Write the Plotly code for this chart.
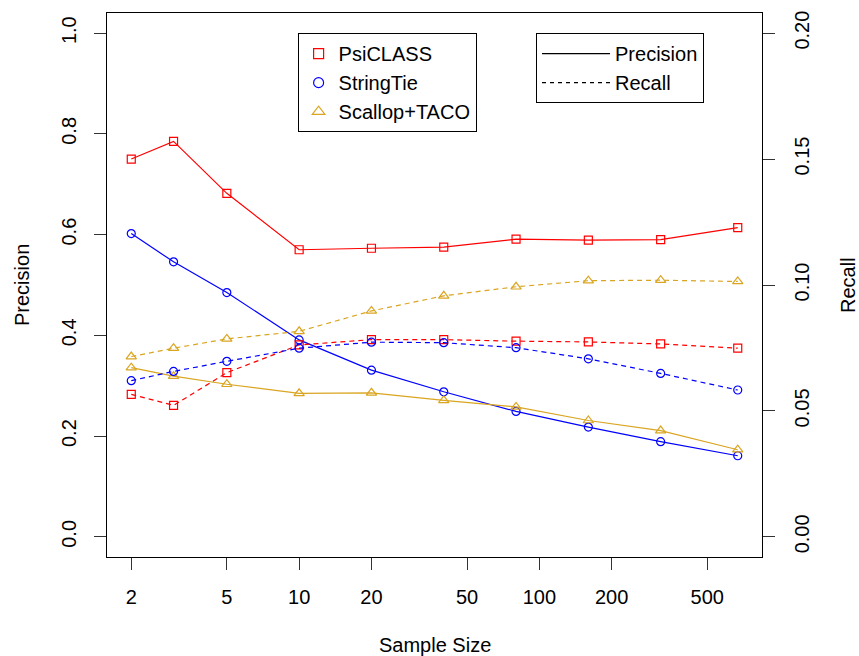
import plotly.graph_objects as go

sample_size = [2, 3, 5, 10, 20, 40, 80, 160, 320, 670]

psiclass_precision = [0.750, 0.785, 0.682, 0.570, 0.573, 0.575, 0.591, 0.589, 0.590, 0.614]
stringtie_precision = [0.602, 0.546, 0.485, 0.391, 0.331, 0.288, 0.249, 0.218, 0.189, 0.161]
scallop_precision = [0.336, 0.319, 0.303, 0.285, 0.286, 0.271, 0.258, 0.231, 0.211, 0.173]

psiclass_recall = [0.0566, 0.0522, 0.0652, 0.0762, 0.0783, 0.0783, 0.0777, 0.0774, 0.0766, 0.0749]
stringtie_recall = [0.0620, 0.0657, 0.0697, 0.0749, 0.0773, 0.0771, 0.0751, 0.0707, 0.0649, 0.0583]
scallop_recall = [0.0716, 0.0749, 0.0786, 0.0816, 0.0897, 0.0957, 0.0993, 0.1017, 0.1019, 0.1014]

methods = ["PsiCLASS", "StringTie", "Scallop+TACO"]
colors = ["#FF0000", "#0000FF", "#DAA520"]
symbols = ["square-open", "circle-open", "triangle-up-open"]
marker_sizes = [8, 8, 9]

x_ticks = [2, 5, 10, 20, 50, 100, 200, 500]
y_ticks = [0.0, 0.2, 0.4, 0.6, 0.8, 1.0]
y_ticktext = ["0.0", "0.2", "0.4", "0.6", "0.8", "1.0"]
y2_ticks = [0.0, 0.05, 0.10, 0.15, 0.20]
y2_ticktext = ["0.00", "0.05", "0.10", "0.15", "0.20"]

FONT = "Liberation Sans, Arial, Helvetica, sans-serif"
FS = 20

fig = go.Figure()

precisions = [psiclass_precision, stringtie_precision, scallop_precision]
recalls = [psiclass_recall, stringtie_recall, scallop_recall]

for i in range(3):
    mk = dict(symbol=symbols[i], size=marker_sizes[i], color=colors[i], line=dict(width=1.2, color=colors[i]))
    fig.add_trace(go.Scatter(
        x=sample_size, y=precisions[i], mode="lines+markers",
        line=dict(color=colors[i], width=1.2), marker=mk,
        showlegend=False, yaxis="y"))
    fig.add_trace(go.Scatter(
        x=sample_size, y=recalls[i], mode="lines+markers",
        line=dict(color=colors[i], width=1.2, dash="5px,4px"), marker=mk,
        showlegend=False, yaxis="y2"))

# legend entries
for i in range(3):
    fig.add_trace(go.Scatter(
        x=[None], y=[None], mode="markers", name=methods[i],
        marker=dict(symbol=symbols[i], size=marker_sizes[i] + 2, color=colors[i],
                    line=dict(width=1.2, color=colors[i])),
        legend="legend"))
fig.add_trace(go.Scatter(x=[None], y=[None], mode="lines", name="Precision",
                         line=dict(color="black", width=1.2), legend="legend2"))
fig.add_trace(go.Scatter(x=[None], y=[None], mode="lines", name="Recall",
                         line=dict(color="black", width=1.2, dash="4px,4px"), legend="legend2"))

axis_common = dict(showgrid=False, zeroline=False, showline=True, linecolor="black", linewidth=1,
                   ticks="outside", ticklen=12, tickwidth=1, tickcolor="#333333",
                   tickfont=dict(family=FONT, size=FS, color="black"))

fig.update_layout(
    width=859, height=656,
    margin=dict(l=107, r=97, t=13, b=99),
    paper_bgcolor="white", plot_bgcolor="white",
    font=dict(family=FONT, size=FS, color="black"),
    xaxis=dict(type="log", range=[0.2000, 2.9271], tickvals=x_ticks, ticktext=[str(v) for v in x_ticks],
               mirror=True, ticklabelstandoff=10, **axis_common),
    yaxis=dict(range=[-0.04, 1.04], tickvals=y_ticks, ticktext=y_ticktext, tickangle=-90,
               mirror=True, ticklabelstandoff=10, **axis_common),
    yaxis2=dict(range=[-0.008, 0.208], tickvals=y2_ticks, ticktext=y2_ticktext, tickangle=-90,
                overlaying="y", side="right", ticklabelstandoff=10, **axis_common),
    legend=dict(x=0.291, y=0.963, xanchor="left", yanchor="top", bgcolor="white",
                bordercolor="black", borderwidth=1, font=dict(family=FONT, size=FS, color="black"),
                tracegroupgap=0, itemwidth=30),
    legend2=dict(x=0.655, y=0.963, xanchor="left", yanchor="top", bgcolor="white",
                 bordercolor="black", borderwidth=1, font=dict(family=FONT, size=FS, color="black"),
                 tracegroupgap=0, itemwidth=68),
    annotations=[
        dict(text="Sample Size", x=0.5, y=0, xref="paper", yref="paper", xanchor="center", yanchor="middle",
             yshift=-88, showarrow=False, font=dict(family=FONT, size=FS, color="black")),
        dict(text="Precision", x=0, y=0.5, xref="paper", yref="paper", xanchor="center", yanchor="middle",
             xshift=-85, textangle=-90, showarrow=False, font=dict(family=FONT, size=FS, color="black")),
        dict(text="Recall", x=1, y=0.5, xref="paper", yref="paper", xanchor="center", yanchor="middle",
             xshift=86, textangle=-90, showarrow=False, font=dict(family=FONT, size=FS, color="black")),
    ],
)

fig.write_html("out.html")
